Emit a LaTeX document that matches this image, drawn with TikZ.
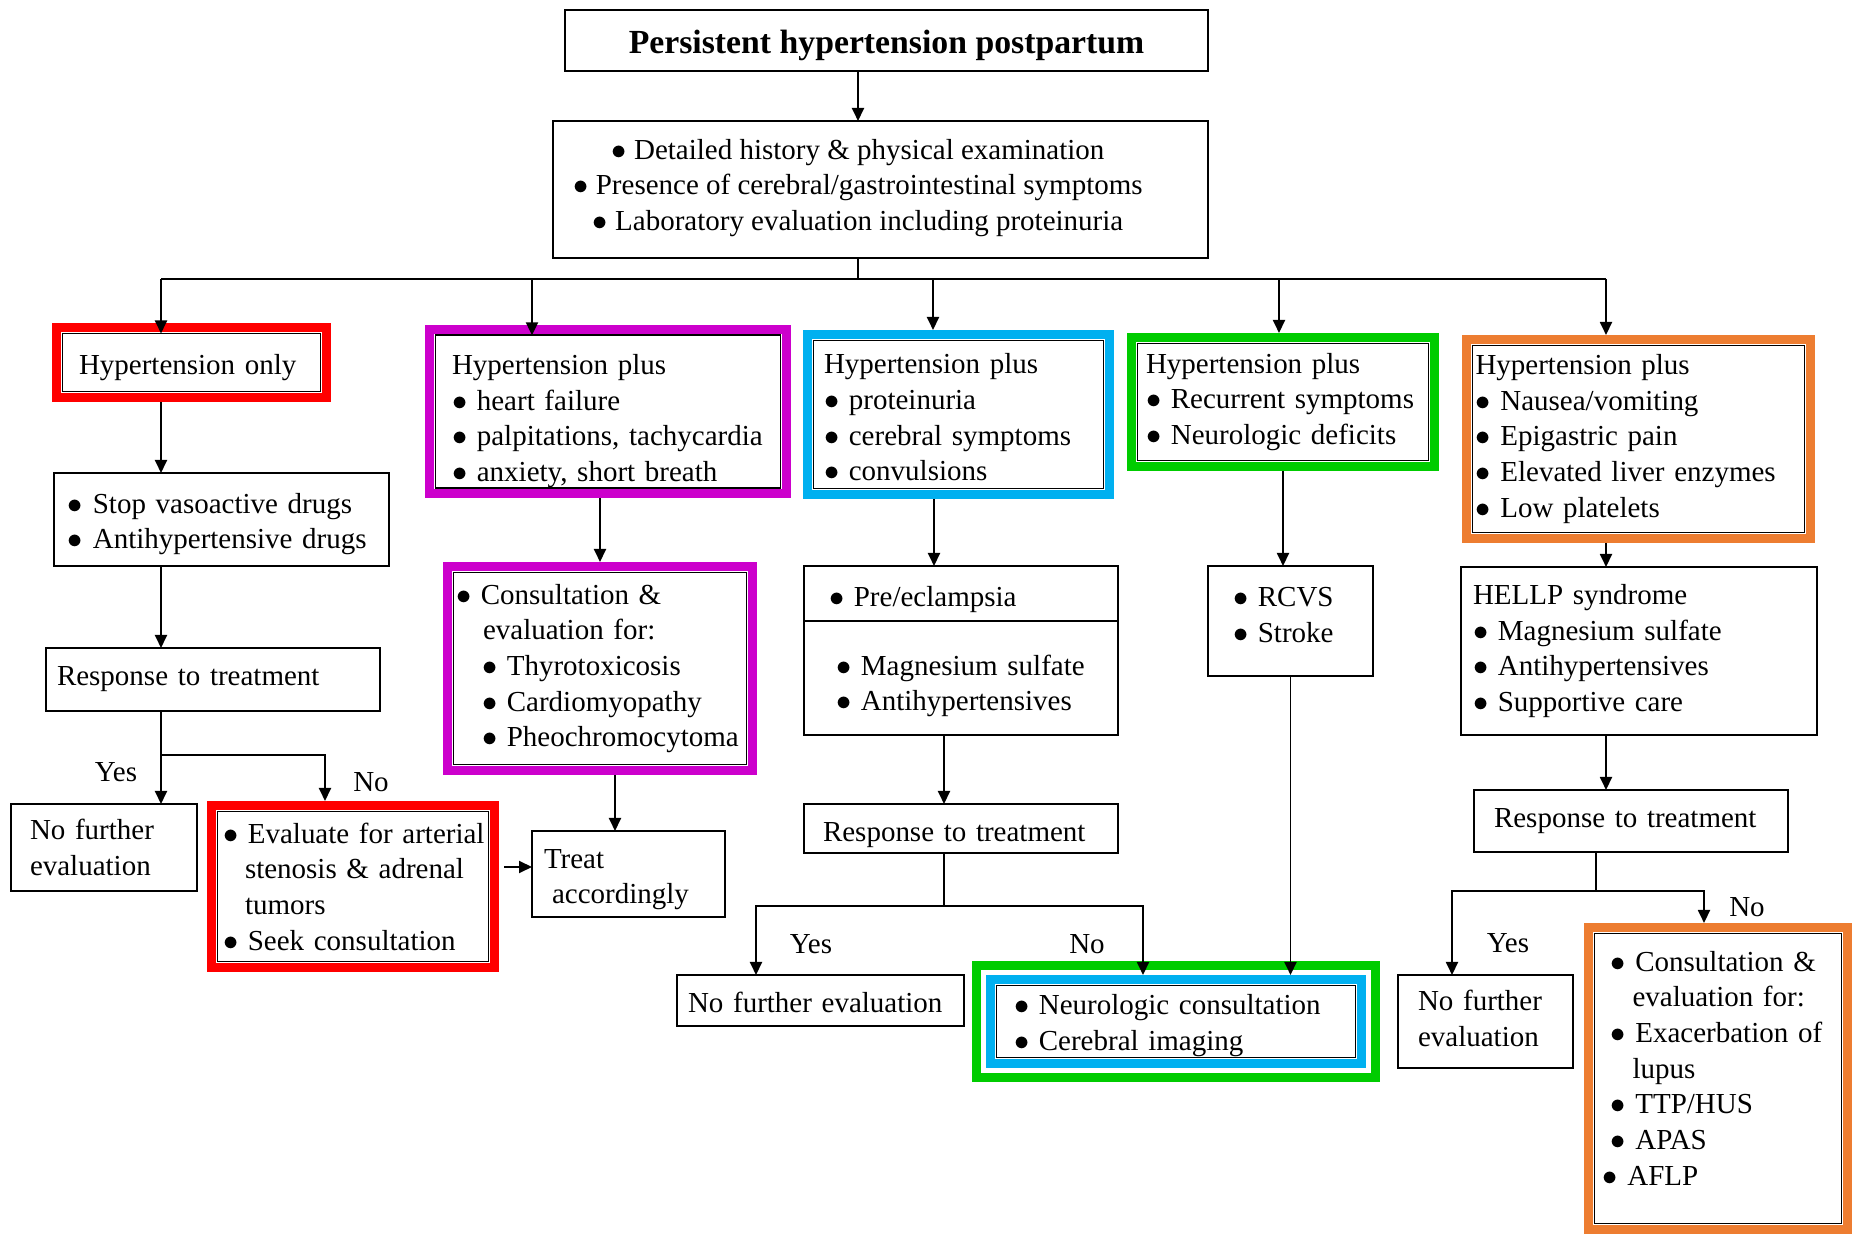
\documentclass[tikz,border=0pt]{standalone}
\usepackage{fontspec}
\setmainfont{Liberation Serif}
\usetikzlibrary{
    arrows.meta,
    positioning,
    fit
}
\definecolor{hl-red}{RGB}{255,0,0}
\definecolor{hl-purple}{RGB}{204,0,204}
\definecolor{hl-blue}{RGB}{0,176,240}
\definecolor{hl-green}{RGB}{0,204,0}
\definecolor{hl-orange}{RGB}{237,125,49}
\hyphenpenalty=10000
\exhyphenpenalty=10000
\newcommand{\bullt}{$\bullet$\ }
\newcommand{\padtop}[1]{\rule{0pt}{#1}}
\newcommand{\padbot}[1]{\rule[-#1]{0pt}{#1}}
\tikzset{
    box/.style={
        draw,
        line width=1.1pt,
        outer sep=0pt,
        inner ysep=0pt,
        align=left
    },
    sized/.style n args={3}{
        text width=#1,
        inner xsep=#2,
        minimum height=#3
    },
    hilite/.style={
        draw=#1,
        line width=0.18cm,
        inner sep=0.12cm
    }
}

\begin{document}
\begin{tikzpicture}[
    font=\fontsize{16.5}{20.3}\selectfont,
    link/.style={line width=1.1pt},
    arr/.style={-{Triangle[length=0.26cm,width=0.24cm]},line width=1.1pt}
    ]

    \useasboundingbox (0, 0) rectangle (37.04, 24.68);

    \node[box, align=center, minimum width=12.86cm, minimum height=1.22cm, font=\fontsize{19.2}{23}\selectfont\bfseries] at (17.73, 23.87) (title) {\padtop{0.65cm}Persistent hypertension postpartum};
    \node[box, minimum width=13.10cm, minimum height=2.74cm] at (17.61, 20.89) (hist) {};
    \node[align=center] at (17.16, 20.92) (histtxt) {\bullt Detailed history \& physical examination\\\bullt Presence of cerebral/gastrointestinal symptoms\\\bullt Laboratory evaluation including proteinuria};

    \node[box, sized={4.50cm}{0.33cm}{1.16cm}] at (3.83, 17.43) (only) {\padtop{0.59cm}Hypertension only};
    \node[box, sized={6.24cm}{0.33cm}{3.00cm}] at (12.16, 16.45) (heart) {\padtop{0.78cm}Hypertension plus\\\bullt heart failure\\\bullt palpitations, tachycardia\\\bullt anxiety, short breath};
    \node[box, sized={5.38cm}{0.21cm}{2.96cm}] at (19.17, 16.39) (prot) {\padtop{0.52cm}Hypertension plus\\\bullt proteinuria\\\bullt cerebral symptoms\\\bullt convulsions};
    \node[box, sized={5.48cm}{0.17cm}{2.34cm}] at (25.66, 16.64) (recur) {Hypertension plus\\\bullt Recurrent symptoms\\\bullt Neurologic deficits};
    \node[box, sized={6.52cm}{0.06cm}{3.74cm}] at (32.77, 15.90) (gi) {Hypertension plus\\\bullt Nausea/vomiting\\\bullt Epigastric pain\\\bullt Elevated liver enzymes\\\bullt Low platelets};

    \node[box, sized={6.14cm}{0.28cm}{1.86cm}] at (4.43, 14.29) (stop) {\padtop{0.59cm}\bullt Stop vasoactive drugs\\\bullt Antihypertensive drugs};
    \node[box, sized={6.24cm}{0.22cm}{1.26cm}] at (4.26, 11.09) (resp1) {Response to treatment};
    \node[box, sized={2.96cm}{0.38cm}{1.74cm}] at (2.08, 7.73) (nofur1) {No further\\evaluation};
    \node[box, sized={5.20cm}{0.11cm}{3.00cm}] at (7.06, 6.95) (eval) {\mbox{\bullt Evaluate for arterial}\\\hspace*{0.44cm}stenosis \& adrenal\\\hspace*{0.44cm}tumors\\\bullt Seek consultation};
    \node[box, sized={3.38cm}{0.24cm}{1.72cm}] at (12.57, 7.20) (treat) {\padtop{0.61cm}Treat\\\hspace*{0.16cm}accordingly};
    \node[box, sized={5.76cm}{0.05cm}{3.84cm}] at (12.00, 11.31) (consult) {\bullt Consultation \&\\\hspace*{0.54cm}evaluation for:\\\hspace*{0.52cm}\bullt Thyrotoxicosis\\\hspace*{0.52cm}\bullt Cardiomyopathy\\\hspace*{0.52cm}\bullt Pheochromocytoma};

    \node[box, sized={5.28cm}{0.50cm}{1.10cm}] at (19.22, 12.81) (pre) {\padtop{0.64cm}\bullt Pre/eclampsia};
    \node[box, sized={5.00cm}{0.64cm}{2.28cm}, below=0pt of pre] (mgso) {\padtop{0.73cm}\bullt Magnesium sulfate\\\bullt Antihypertensives};
    \node[box, sized={5.52cm}{0.38cm}{0.98cm}] at (19.22, 8.11) (resp2) {\padtop{0.64cm}Response to treatment};
    \node[box, sized={5.30cm}{0.22cm}{1.02cm}] at (16.41, 4.67) (nofur2) {\padtop{0.50cm}No further evaluation};
    \node[box, sized={6.48cm}{0.35cm}{1.44cm}] at (23.52, 4.25) (neuro) {\padtop{0.56cm}\bullt Neurologic consultation\\\bullt Cerebral imaging};
    \node[box, sized={2.30cm}{0.50cm}{2.20cm}] at (25.81, 12.26) (rcvs) {\bullt RCVS\\\bullt Stroke\padbot{0.24cm}};

    \node[box, sized={6.64cm}{0.24cm}{3.36cm}] at (32.78, 11.66) (hellp) {HELLP syndrome\\\bullt Magnesium sulfate\\\bullt Antihypertensives\\\bullt Supportive care};
    \node[box, sized={5.48cm}{0.40cm}{1.24cm}] at (32.62, 8.26) (resp3) {Response to treatment};
    \node[box, sized={2.70cm}{0.40cm}{1.86cm}] at (29.71, 4.25) (nofur3) {No further\\evaluation\padbot{0.12cm}};
    \node[box, sized={4.30cm}{0.32cm}{5.80cm}] at (34.36, 3.11) (lupus) {\bullt Consultation \&\\\hspace*{0.44cm}evaluation for:\\\bullt Exacerbation~of\\\hspace*{0.44cm}lupus\\\bullt TTP/HUS\\\bullt APAS\\\hspace*{-0.16cm}\bullt AFLP\padbot{0.42cm}};

    % colour frames
    \node[hilite=hl-red, fit=(only)] (onlyframe) {};
    \node[hilite=hl-purple, fit=(heart)] (heartframe) {};
    \node[hilite=hl-blue, fit=(prot)] (protframe) {};
    \node[hilite=hl-green, fit=(recur)] (recurframe) {};
    \node[hilite=hl-orange, fit=(gi)] (giframe) {};
    \node[hilite=hl-red, fit=(eval)] (evalframe) {};
    \node[hilite=hl-purple, fit=(consult)] (consultframe) {};
    \node[hilite=hl-blue, fit=(neuro)] (neuroblue) {};
    \node[hilite=hl-green, inner sep=0.19cm, fit=(neuroblue)] (neurogreen) {};
    \node[hilite=hl-orange, fit=(lupus)] (lupusframe) {};

    \coordinate (split) at (17.16, 19.10);
    \coordinate (bL) at (3.22, 19.10);
    \coordinate (bR) at (32.12, 19.10);
    \draw[arr] (title.south -| histtxt) -- (hist.north -| histtxt);
    \draw[link] (hist.south -| histtxt) -- (split);
    \draw[link] (bL) -- (bR);
    \foreach \x/\target in {3.22/only, 10.64/heart, 18.66/protframe, 25.58/recurframe, 32.12/giframe} {
        \coordinate (drop) at (\x, 19.10);
        \draw[arr] (drop) -- (drop |- \target.north);
    }

    \draw[arr] (onlyframe.south -| bL) -- (stop.north -| bL);
    \draw[arr] (stop.south -| bL) -- (resp1.north -| bL);
    \draw[arr] (resp1.south -| bL) -- (nofur1.north -| bL);
    \coordinate (y1) at (3.22, 9.58);
    \coordinate (n1) at (6.50, 9.58);
    \draw[arr] (y1) -- (n1) -- (n1 |- evalframe.north);
    \node at (2.32, 9.24) (yes1) {Yes};
    \node at (7.42, 9.04) (no1) {No};
    \coordinate (et) at (10.08, 7.34);
    \draw[arr] (et) -- (et -| treat.west);

    \draw[arr] (heartframe.south -| consult) -- (consultframe.north);
    \coordinate (ct) at ([xshift=0.30cm]consultframe.south);
    \draw[arr] (ct) -- (ct |- treat.north);

    \coordinate (pt) at ([xshift=-0.54cm]pre.north);
    \draw[arr] (pt |- protframe.south) -- (pt);
    \coordinate (mt) at ([xshift=-0.34cm]mgso.south);
    \draw[arr] (mt) -- (mt |- resp2.north);
    \coordinate (y2) at (15.12, 6.56);
    \coordinate (n2) at (22.86, 6.56);
    \draw[link] (mt |- resp2.south) -- (mt |- y2);
    \draw[arr] (mt |- y2) -- (y2) -- (y2 |- nofur2.north);
    \draw[arr] (mt |- y2) -- (n2) -- (n2 |- neuroblue.north);
    \node at (16.22, 5.80) (yes2) {Yes};
    \node at (21.74, 5.80) (no2) {No};

    \draw[arr] (recurframe.south) -- (recurframe.south |- rcvs.north);
    \draw[arr] (rcvs.south) -- (rcvs.south |- neuroblue.north);

    \coordinate (ht) at ([xshift=-0.66cm]hellp.north);
    \draw[arr] (ht |- giframe.south) -- (ht);
    \draw[arr] (ht |- hellp.south) -- (ht |- resp3.north);
    \coordinate (rt) at ([xshift=-0.70cm]resp3.south);
    \coordinate (y3) at (29.04, 6.86);
    \coordinate (n3) at (34.08, 6.86);
    \draw[link] (rt) -- (rt |- y3);
    \draw[arr] (rt |- y3) -- (y3) -- (y3 |- nofur3.north);
    \draw[arr] (rt |- y3) -- (n3) -- (n3 |- lupusframe.north);
    \node at (30.16, 5.82) (yes3) {Yes};
    \node at (34.94, 6.54) (no3) {No};

\end{tikzpicture}
\end{document}
